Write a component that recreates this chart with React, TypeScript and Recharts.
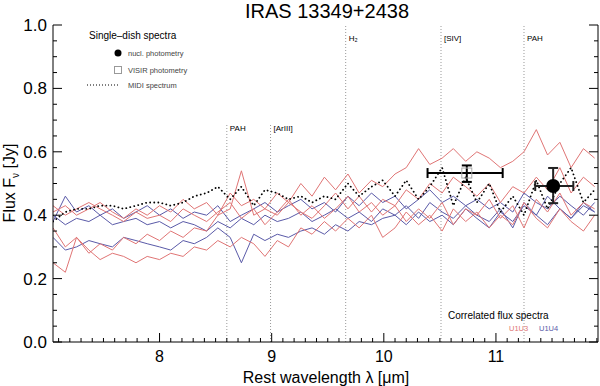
import React from "react";
import {
  ComposedChart,
  Line,
  Scatter,
  ErrorBar,
  XAxis,
  YAxis,
  ReferenceLine,
  ReferenceDot,
} from "recharts";

const FONT = "'Liberation Sans', Arial, Helvetica, sans-serif";

// rest wavelength grid of the spectra [micron]
const wavelength = [
  7.05, 7.16, 7.26, 7.37, 7.47, 7.58, 7.68, 7.79, 7.89, 8.0, 8.1, 8.21, 8.31, 8.42, 8.52, 8.63,
  8.73, 8.84, 8.94, 9.05, 9.15, 9.26, 9.36, 9.47, 9.57, 9.68, 9.78, 9.89, 9.99, 10.1, 10.2, 10.31,
  10.41, 10.52, 10.62, 10.73, 10.83, 10.94, 11.04, 11.15, 11.25, 11.36, 11.46, 11.57, 11.67, 11.78, 11.88,
];

// single-dish MIDI spectrum [Jy]
const midi = [
  0.38, 0.41, 0.42, 0.42, 0.43, 0.43, 0.42, 0.43, 0.44, 0.44, 0.43, 0.44, 0.46, 0.47, 0.49, 0.45,
  0.49, 0.43, 0.48, 0.47, 0.45, 0.46, 0.44, 0.46, 0.45, 0.5, 0.46, 0.49, 0.51, 0.46, 0.51, 0.45,
  0.49, 0.55, 0.43, 0.52, 0.44, 0.5, 0.41, 0.46, 0.4, 0.51, 0.42, 0.5, 0.55, 0.44, 0.48,
];

// correlated flux spectra, baseline one (red)
const redA = [
  0.41, 0.43, 0.4, 0.42, 0.44, 0.41, 0.39, 0.42, 0.4, 0.43, 0.41, 0.45, 0.42, 0.44, 0.4, 0.47,
  0.43, 0.45, 0.42, 0.47, 0.44, 0.5, 0.46, 0.52, 0.48, 0.53, 0.47, 0.51, 0.49, 0.53, 0.55, 0.61,
  0.56, 0.58, 0.61, 0.57, 0.6, 0.58, 0.55, 0.57, 0.6, 0.67, 0.59, 0.63, 0.55, 0.61, 0.58,
];
const redB = [
  0.36, 0.3, 0.33, 0.28, 0.31, 0.29, 0.33, 0.31, 0.34, 0.32, 0.35, 0.33, 0.36, 0.35, 0.4, 0.42,
  0.54, 0.4, 0.42, 0.4, 0.44, 0.41, 0.39, 0.43, 0.47, 0.42, 0.46, 0.41, 0.45, 0.43, 0.48, 0.45,
  0.5, 0.47, 0.52, 0.49, 0.46, 0.5, 0.44, 0.49, 0.47, 0.52, 0.48, 0.55, 0.47, 0.52, 0.49,
];
const redC = [
  0.25, 0.22, 0.33, 0.29, 0.26, 0.28, 0.27, 0.25, 0.27, 0.26, 0.28, 0.27, 0.3, 0.29, 0.32, 0.3,
  0.33, 0.31, 0.27, 0.32, 0.3, 0.36, 0.34, 0.38, 0.35, 0.39, 0.36, 0.4, 0.33, 0.36, 0.41, 0.37,
  0.4, 0.35, 0.42, 0.38, 0.41, 0.36, 0.4, 0.37, 0.44, 0.39, 0.36, 0.42, 0.38, 0.35, 0.4,
];
const redD = [
  0.43, 0.4, 0.42, 0.44, 0.42, 0.4, 0.38, 0.41, 0.39, 0.4, 0.38, 0.42, 0.4, 0.38, 0.41, 0.44,
  0.39, 0.42, 0.37, 0.41, 0.45, 0.4, 0.43, 0.39, 0.42, 0.46, 0.41, 0.44, 0.4, 0.43, 0.38, 0.42,
  0.39, 0.44, 0.37, 0.42, 0.4, 0.45, 0.39, 0.43, 0.36, 0.45, 0.41, 0.47, 0.4, 0.44, 0.42,
];

// correlated flux spectra, baseline two (blue)
const blueA = [
  0.38, 0.46, 0.41, 0.43, 0.4, 0.42, 0.39, 0.41, 0.43, 0.4, 0.42, 0.39, 0.41, 0.4, 0.43, 0.38,
  0.4, 0.42, 0.44, 0.41, 0.43, 0.45, 0.42, 0.44, 0.41, 0.46, 0.43, 0.47, 0.44, 0.46, 0.42, 0.45,
  0.48, 0.44, 0.46, 0.43, 0.45, 0.42, 0.44, 0.41, 0.47, 0.44, 0.42, 0.46, 0.43, 0.4, 0.44,
];
const blueB = [
  0.4, 0.37, 0.39, 0.38, 0.4, 0.37, 0.38, 0.39, 0.37, 0.38, 0.36, 0.38, 0.37, 0.35, 0.38, 0.36,
  0.39, 0.37, 0.4, 0.38, 0.39, 0.41, 0.38, 0.4, 0.42, 0.39, 0.41, 0.38, 0.42, 0.4, 0.43, 0.39,
  0.44, 0.41, 0.39, 0.43, 0.4, 0.38, 0.42, 0.36, 0.44, 0.4, 0.46, 0.42, 0.39, 0.43, 0.41,
];
const blueC = [
  0.33, 0.29, 0.3, 0.32, 0.31, 0.3, 0.33, 0.32, 0.31, 0.3, 0.29, 0.32, 0.31, 0.33, 0.36, 0.33,
  0.25, 0.34, 0.32, 0.34, 0.33, 0.35, 0.36, 0.34, 0.37, 0.35, 0.38, 0.37, 0.39, 0.4, 0.37, 0.41,
  0.38, 0.4, 0.37, 0.42, 0.39, 0.36, 0.41, 0.38, 0.43, 0.4, 0.37, 0.42, 0.39, 0.44, 0.41,
];

// photometry points with asymmetric errors
const visir = [{ w: 10.74, f: 0.533, ex: [0.35, 0.32], ey: [0.028, 0.024] }];
const nuclear = [{ w: 11.51, f: 0.492, ex: [0.16, 0.18], ey: [0.054, 0.057] }];

// emission line markers
const lineNames = ["PAH", "[ArIII]", "H\u2082", "[SIV]", "PAH"];
const lineWaves = [8.6, 8.99, 9.66, 10.51, 11.25];
const lineHigh = [false, false, true, true, true];

const xLabels = [8, 9, 10, 11];
const yLabels = [0, 0.2, 0.4, 0.6, 0.8, 1.0];

const X_DOMAIN: [number, number] = [7.05, 11.91];
const xTicks = Array.from({ length: 49 }, (_, i) => Math.round((7.1 + i * 0.1) * 10) / 10);
const yTicks = Array.from({ length: 21 }, (_, i) => Math.round(i * 5) / 100);

const table = wavelength.map((w, i) => ({
  w,
  midi: midi[i],
  redA: redA[i],
  redB: redB[i],
  redC: redC[i],
  redD: redD[i],
  blueA: blueA[i],
  blueB: blueB[i],
  blueC: blueC[i],
}));

const isMajorX = (v: number) => xLabels.some((m) => Math.abs(m - v) < 1e-6);
const isMajorY = (v: number) => yLabels.some((m) => Math.abs(m - v) < 1e-6);

const BottomTick = (p: any) => {
  const v = p.payload.value;
  const major = isMajorX(v);
  return (
    <g>
      <line x1={p.x} x2={p.x} y1={p.y} y2={p.y - (major ? 9 : 4)} stroke="#000" />
      {major && (
        <text x={p.x} y={p.y + 20} textAnchor="middle" fontSize={16} fontFamily={FONT} fill="#000">
          {v}
        </text>
      )}
    </g>
  );
};

const TopTick = (p: any) => {
  const major = isMajorX(p.payload.value);
  return <line x1={p.x} x2={p.x} y1={p.y} y2={p.y + (major ? 9 : 4)} stroke="#000" />;
};

const LeftTick = (p: any) => {
  const v = p.payload.value;
  const major = isMajorY(v);
  return (
    <g>
      <line x1={p.x} x2={p.x + (major ? 9 : 4)} y1={p.y} y2={p.y} stroke="#000" />
      {major && (
        <text x={p.x - 6} y={p.y + 6} textAnchor="end" fontSize={17} fontFamily={FONT} fill="#000">
          {v.toFixed(1)}
        </text>
      )}
    </g>
  );
};

const RightTick = (p: any) => {
  const major = isMajorY(p.payload.value);
  return <line x1={p.x} x2={p.x - (major ? 9 : 4)} y1={p.y} y2={p.y} stroke="#000" />;
};

const Square = (p: any) => (
  <rect x={p.cx - 5} y={p.cy - 5} width={10} height={10} fill="none" stroke="#aaa" />
);
const Disc = (p: any) => <circle cx={p.cx} cy={p.cy} r={7} fill="#000" />;

const RED = "#e07575";
const BLUE = "#5a5aa8";

export default function App() {
  return (
    <div style={{ position: "absolute", left: 0, top: 0, width: 600, height: 386, background: "#fff" }}>
      <ComposedChart
        width={600}
        height={386}
        data={table}
        margin={{ top: 25, right: 0, bottom: 0, left: 0 }}
      >
        <XAxis
          dataKey="w"
          type="number"
          domain={X_DOMAIN}
          allowDataOverflow
          ticks={xTicks}
          interval={0}
          tickSize={0}
          tickMargin={0}
          height={44}
          tickLine={false}
          axisLine={{ stroke: "#000" }}
          tick={BottomTick}
        />
        <XAxis
          xAxisId="t"
          dataKey="w"
          orientation="top"
          type="number"
          domain={X_DOMAIN}
          allowDataOverflow
          ticks={xTicks}
          interval={0}
          tickSize={0}
          tickMargin={0}
          height={0}
          tickLine={false}
          axisLine={{ stroke: "#000" }}
          tick={TopTick}
        />
        <YAxis
          type="number"
          domain={[0, 1]}
          allowDataOverflow
          ticks={yTicks}
          interval={0}
          tickSize={0}
          tickMargin={0}
          width={53}
          tickLine={false}
          axisLine={{ stroke: "#000" }}
          tick={LeftTick}
        />
        <YAxis
          yAxisId="r"
          orientation="right"
          type="number"
          domain={[0, 1]}
          allowDataOverflow
          ticks={yTicks}
          interval={0}
          tickSize={0}
          tickMargin={0}
          width={2}
          tickLine={false}
          axisLine={{ stroke: "#000" }}
          tick={RightTick}
        />

        {lineWaves.map((x, i) =>
          lineHigh[i] ? (
            <ReferenceLine key={"l" + i} x={x} stroke="#999" strokeDasharray="1 2" />
          ) : (
            <ReferenceLine
              key={"l" + i}
              segment={[
                { x, y: 0 },
                { x, y: 0.69 },
              ]}
              stroke="#999"
              strokeDasharray="1 2"
            />
          )
        )}
        {lineWaves.map((x, i) => (
          <ReferenceDot
            key={"d" + i}
            x={x}
            y={lineHigh[i] ? 0.96 : 0.675}
            r={0}
            fill="none"
            stroke="none"
            label={{ value: lineNames[i], position: "right", offset: 3, fontSize: 8, fill: "#000", fontFamily: FONT }}
          />
        ))}

        <Line dataKey="blueA" stroke={BLUE} strokeWidth={1} dot={false} isAnimationActive={false} />
        <Line dataKey="blueB" stroke={BLUE} strokeWidth={1} dot={false} isAnimationActive={false} />
        <Line dataKey="blueC" stroke={BLUE} strokeWidth={1} dot={false} isAnimationActive={false} />
        <Line dataKey="redA" stroke={RED} strokeWidth={1} dot={false} isAnimationActive={false} />
        <Line dataKey="redB" stroke={RED} strokeWidth={1} dot={false} isAnimationActive={false} />
        <Line dataKey="redC" stroke={RED} strokeWidth={1} dot={false} isAnimationActive={false} />
        <Line dataKey="redD" stroke={RED} strokeWidth={1} dot={false} isAnimationActive={false} />
        <Line
          dataKey="midi"
          stroke="#000"
          strokeWidth={1.8}
          strokeDasharray="0.1 4"
          strokeLinecap="round"
          dot={false}
          isAnimationActive={false}
        />

        <Scatter data={visir} dataKey="f" shape={Square} isAnimationActive={false}>
          <ErrorBar dataKey="ex" direction="x" width={5} stroke="#000" strokeWidth={2} />
          <ErrorBar dataKey="ey" direction="y" width={5} stroke="#000" strokeWidth={2} />
        </Scatter>
        <Scatter data={nuclear} dataKey="f" shape={Disc} isAnimationActive={false}>
          <ErrorBar dataKey="ex" direction="x" width={5} stroke="#222" strokeWidth={2} />
          <ErrorBar dataKey="ey" direction="y" width={5} stroke="#222" strokeWidth={2} />
        </Scatter>
      </ComposedChart>

      <svg
        width={600}
        height={386}
        style={{ position: "absolute", left: 0, top: 0, pointerEvents: "none" }}
        fontFamily={FONT}
      >
        <text x={327} y={18} textAnchor="middle" fontSize={20}>
          IRAS 13349+2438
        </text>
        <text x={326} y={383} textAnchor="middle" fontSize={16}>
          Rest wavelength λ [μm]
        </text>
        <text transform="translate(15,183) rotate(-90)" textAnchor="middle" fontSize={16}>
          Flux F<tspan fontSize={10} dy={4}>ν</tspan>
          <tspan dy={-4}> [Jy]</tspan>
        </text>

        <text x={89} y={39} fontSize={10}>
          Single–dish spectra
        </text>
        <circle cx={118} cy={53} r={3.5} fill="#000" />
        <text x={128} y={56} fontSize={7.5} fill="#444">
          nucl. photometry
        </text>
        <rect x={114.5} y={66.5} width={7} height={7} fill="none" stroke="#999" />
        <text x={128} y={73} fontSize={7.5} fill="#444">
          VISIR photometry
        </text>
        <line x1={87} x2={120} y1={85} y2={85} stroke="#000" strokeWidth={1.2} strokeDasharray="1 2" />
        <text x={128} y={88} fontSize={7.5} fill="#444">
          MIDI spectrum
        </text>

        <text x={448} y={319} fontSize={10}>
          Correlated flux spectra
        </text>
        <text x={509} y={331} fontSize={7.5} fill={RED}>
          U1U3
        </text>
        <text x={539} y={331} fontSize={7.5} fill={BLUE}>
          U1U4
        </text>
      </svg>
    </div>
  );
}
